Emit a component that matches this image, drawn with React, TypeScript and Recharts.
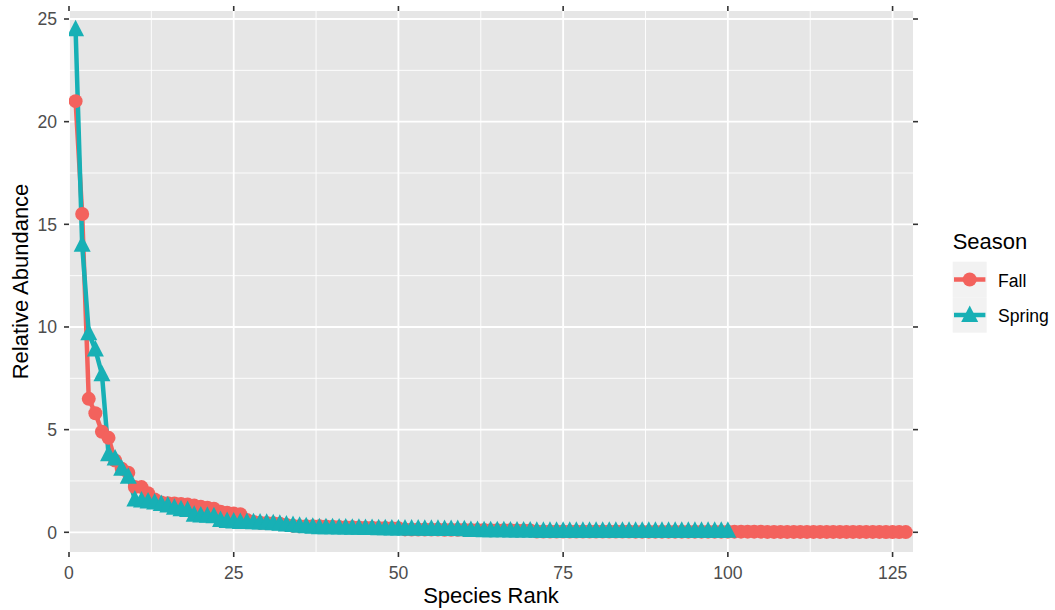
import { LineChart, Line, XAxis, YAxis, CartesianGrid } from 'recharts';

// relative abundance by species rank (rank 1 = first entry)
const fallAbundance = [
  21.0, 15.5, 6.5, 5.8, 4.9, 4.6, 3.5, 3.1, 2.9, 2.2,
  2.2, 1.9, 1.6, 1.45, 1.42, 1.4, 1.38, 1.35, 1.3, 1.25,
  1.2, 1.15, 1.0, 0.95, 0.92, 0.88, 0.6, 0.5, 0.46, 0.45,
  0.44, 0.42, 0.36, 0.32, 0.3, 0.3, 0.3, 0.29, 0.28, 0.27,
  0.26, 0.25, 0.24, 0.23, 0.22, 0.22, 0.21, 0.21, 0.2, 0.2,
  0.14, 0.13, 0.13, 0.13, 0.13, 0.13, 0.12, 0.12, 0.12, 0.12,
  0.11, 0.11, 0.11, 0.1, 0.1, 0.1, 0.1, 0.09, 0.09, 0.09,
  0.04, 0.04, 0.04, 0.04, 0.04, 0.04, 0.04, 0.04, 0.04, 0.04,
  0.04, 0.04, 0.04, 0.04, 0.04, 0.03, 0.03, 0.03, 0.03, 0.03,
  0.03, 0.03, 0.03, 0.03, 0.03, 0.03, 0.03, 0.03, 0.03, 0.03,
  0.03, 0.03, 0.03, 0.03, 0.03, 0.02, 0.02, 0.02, 0.02, 0.02,
  0.02, 0.02, 0.02, 0.02, 0.02, 0.02, 0.02, 0.02, 0.02, 0.02,
  0.02, 0.02, 0.02, 0.01, 0.01, 0.01, 0.01,
];

const springAbundance = [
  24.5, 14.0, 9.7, 8.9, 7.7, 3.8, 3.6, 3.1, 2.7, 1.6,
  1.55, 1.5, 1.45, 1.38, 1.3, 1.2, 1.12, 1.08, 0.85, 0.82,
  0.8, 0.78, 0.6, 0.55, 0.52, 0.5, 0.5, 0.49, 0.48, 0.46,
  0.44, 0.42, 0.38, 0.35, 0.32, 0.3, 0.27, 0.25, 0.24, 0.24,
  0.23, 0.23, 0.22, 0.22, 0.21, 0.21, 0.2, 0.2, 0.19, 0.19,
  0.18, 0.18, 0.18, 0.17, 0.17, 0.17, 0.16, 0.16, 0.16, 0.15,
  0.11, 0.11, 0.1, 0.1, 0.1, 0.1, 0.09, 0.09, 0.09, 0.09,
  0.08, 0.08, 0.08, 0.08, 0.08, 0.08, 0.08, 0.08, 0.08, 0.08,
  0.08, 0.08, 0.08, 0.08, 0.08, 0.07, 0.07, 0.07, 0.07, 0.07,
  0.07, 0.07, 0.07, 0.07, 0.07, 0.07, 0.07, 0.07, 0.07, 0.07,
];

const seasons = ['Fall', 'Spring'];
const xTicks = [0, 25, 50, 75, 100, 125];
const yTicks = [0, 5, 10, 15, 20, 25];
const xMinor = [12.5, 37.5, 62.5, 87.5, 112.5];
const yMinor = [2.5, 7.5, 12.5, 17.5, 22.5];

const FALL = '#F3625D';
const SPRING = '#17B0B5';
const FONT = '"Liberation Sans", Arial, Helvetica, sans-serif';

const data = fallAbundance.map((v, i) => ({
  rank: i + 1,
  fall: v,
  spring: i < springAbundance.length ? springAbundance[i] : undefined,
}));

const tickStyle = { fontSize: 17.6, fill: '#4D4D4D', fontFamily: FONT };
const tickLine = { stroke: '#333333', strokeWidth: 1.6 };
const titleStyle = { fontSize: 22, fill: '#000', fontFamily: FONT };

const triangle = (cx: number, cy: number) =>
  `${cx},${cy - 9.5} ${cx + 8.5},${cy + 7} ${cx - 8.5},${cy + 7}`;

const FallDot = (p: any) => {
  if (p.cx == null || p.cy == null) return <g key={`f-${p.index}`} />;
  return <circle key={`f-${p.index}`} cx={p.cx} cy={p.cy} r={7} fill={FALL} />;
};

const SpringDot = (p: any) => {
  if (p.cx == null || p.cy == null) return <g key={`s-${p.index}`} />;
  return <polygon key={`s-${p.index}`} points={triangle(p.cx, p.cy)} fill={SPRING} />;
};

// ggplot-style legend box, sits to the right of the panel
const SeasonLegend = () => (
  <svg
    width={103}
    height={110}
    style={{ position: 'absolute', left: 952, top: 228, fontFamily: FONT, display: 'block' }}
  >
    <text x={0.7} y={21} fontSize={22} fill="#000">Season</text>
    <rect x={0.7} y={33.7} width={34} height={35.5} fill="#F2F2F2" />
    <rect x={0.7} y={69.2} width={34} height={35.5} fill="#F2F2F2" />
    <line x1={2} x2={33.4} y1={51.5} y2={51.5} stroke={FALL} strokeWidth={4.5} />
    <circle cx={17.7} cy={51.5} r={7} fill={FALL} />
    <line x1={2} x2={33.4} y1={87} y2={87} stroke={SPRING} strokeWidth={4.5} />
    <polygon points={triangle(17.7, 87)} fill={SPRING} />
    <text x={46} y={59} fontSize={17.6} fill="#000">{seasons[0]}</text>
    <text x={46} y={94} fontSize={17.6} fill="#000">{seasons[1]}</text>
  </svg>
);

export default function App() {
  return (
    <div style={{ position: 'absolute', left: 0, top: 0, width: 1055, height: 610, background: '#fff' }}>
      <LineChart
        width={1055}
        height={610}
        data={data}
        margin={{ top: 5, right: 136, bottom: 0, left: 9 }}
        style={{ fontFamily: FONT }}
      >
        <CartesianGrid
          fill="#E6E6E6"
          stroke="#FFFFFF"
          strokeWidth={0.9}
          horizontalValues={yMinor}
          verticalValues={xMinor}
        />
        <CartesianGrid
          stroke="#FFFFFF"
          strokeWidth={1.8}
          horizontalValues={yTicks}
          verticalValues={xTicks}
        />
        <XAxis
          dataKey="rank"
          type="number"
          domain={[0, 128.1]}
          allowDataOverflow
          ticks={xTicks}
          axisLine={false}
          tickLine={tickLine}
          tickSize={5}
          tickMargin={10}
          tick={tickStyle}
          height={58}
          label={{ value: 'Species Rank', position: 'insideBottom', offset: 7, style: titleStyle }}
        />
        <XAxis
          xAxisId="top"
          orientation="top"
          dataKey="rank"
          type="number"
          domain={[0, 128.1]}
          allowDataOverflow
          ticks={xTicks}
          axisLine={false}
          tickLine={tickLine}
          tickSize={5}
          tickFormatter={() => ''}
          height={6}
        />
        <YAxis
          type="number"
          domain={[-0.96, 25.39]}
          allowDataOverflow
          ticks={yTicks}
          axisLine={false}
          tickLine={tickLine}
          tickSize={5}
          tickMargin={7}
          tick={tickStyle}
          width={60}
          label={{
            value: 'Relative Abundance',
            angle: -90,
            position: 'insideLeft',
            offset: 11,
            style: { ...titleStyle, textAnchor: 'middle' },
          }}
        />
        <YAxis
          yAxisId="right"
          orientation="right"
          type="number"
          domain={[-0.96, 25.39]}
          allowDataOverflow
          ticks={yTicks}
          axisLine={false}
          tickLine={tickLine}
          tickSize={5}
          tickFormatter={() => ''}
          width={6}
        />
        <Line dataKey="fall" name={seasons[0]} type="linear" stroke={FALL} strokeWidth={4.5} dot={false} activeDot={false} isAnimationActive={false} />
        <Line dataKey="spring" name={seasons[1]} type="linear" stroke={SPRING} strokeWidth={4.5} dot={false} activeDot={false} isAnimationActive={false} />
        <Line dataKey="fall" type="linear" stroke="none" dot={FallDot} activeDot={false} isAnimationActive={false} />
        <Line dataKey="spring" type="linear" stroke="none" dot={SpringDot} activeDot={false} isAnimationActive={false} />
      </LineChart>
      <SeasonLegend />
    </div>
  );
}
